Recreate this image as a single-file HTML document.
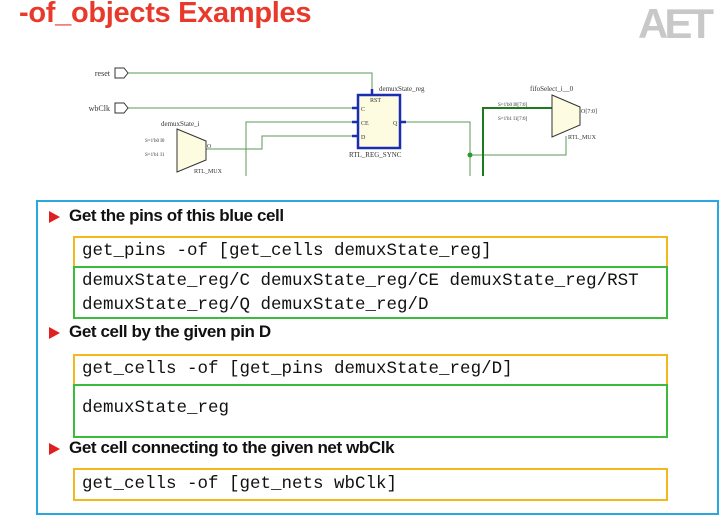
<!DOCTYPE html>
<html><head><meta charset="utf-8"><style>
html,body{margin:0;padding:0;background:#fff;width:728px;height:521px;overflow:hidden;position:relative;font-family:"Liberation Sans",sans-serif}
.title{position:absolute;left:19px;top:-3px;font-size:29px;font-weight:bold;color:#e8392b;letter-spacing:-0.3px}
.logo{position:absolute;left:638px;top:0px;font-size:42px;font-weight:bold;color:#c8c8c8;letter-spacing:-4px}
.blue{position:absolute;left:36px;top:200px;width:679px;height:311px;border:2px solid #2aa6e0}
.b{position:absolute;left:49px;font-size:17px;font-weight:bold;color:#111;letter-spacing:-0.4px}
.b:before{content:"";position:absolute;left:0;top:5px;border-left:11px solid #e02020;border-top:6px solid transparent;border-bottom:6px solid transparent}
.b span{margin-left:20px}
.box{position:absolute;left:73px;width:584px;font-family:"Liberation Mono",monospace;font-size:17.5px;color:#111;padding-left:7px;box-sizing:content-box;line-height:24px}
.y{border:2px solid #f2b81d}
.g{border:2px solid #3cba3c}
</style></head><body>
<div class="title">-of_objects Examples</div>
<div class="logo">AET</div>
<svg style="position:absolute;left:0;top:0" width="728" height="200" font-family="Liberation Serif,serif" font-size="7">
<g fill="none" stroke="#5a9a5a" stroke-width="1">
<polyline points="128,73 372,73 372,94"/>
<line x1="128" y1="108" x2="357" y2="108"/>
<polyline points="206,149 262,149 262,136 357,136"/>
<polyline points="246,176 246,122 357,122"/>
<polyline points="400,122 470,122 470,176"/>
<polyline points="470,155 566,155 566,136"/>
</g>
<polyline points="483,176 483,108 552,108" fill="none" stroke="#1e7a1e" stroke-width="2"/>
<circle cx="470" cy="155" r="2.5" fill="#2a9a2a"/>
<g fill="#fff" stroke="#333" stroke-width="1">
<polygon points="115,68 124,68 128,73 124,78 115,78"/>
<polygon points="115,103 124,103 128,108 124,113 115,113"/>
</g>
<text x="110" y="76" text-anchor="end" fill="#333" font-size="8">reset</text>
<text x="110" y="111" text-anchor="end" fill="#333" font-size="8">wbClk</text>
<rect x="358" y="95" width="42" height="53" fill="#fdfbe0" stroke="#1a2fb0" stroke-width="2.5"/>
<g stroke="#1a2fb0" stroke-width="2.5"><line x1="352" y1="108" x2="358" y2="108"/><line x1="352" y1="122" x2="358" y2="122"/><line x1="352" y1="136" x2="358" y2="136"/><line x1="400" y1="122" x2="406" y2="122"/><line x1="372" y1="89" x2="372" y2="95"/></g>
<text x="379" y="91" fill="#333">demuxState_reg</text>
<text x="370" y="102" fill="#333" font-size="6">RST</text>
<text x="361" y="111" fill="#333" font-size="6">C</text>
<text x="361" y="125" fill="#333" font-size="6">CE</text>
<text x="361" y="139" fill="#333" font-size="6">D</text>
<text x="393" y="125" fill="#333" font-size="6">Q</text>
<text x="349" y="157" fill="#333">RTL_REG_SYNC</text>
<polygon points="177,129 206,141 206,160 177,172" fill="#fdfbe0" stroke="#333"/>
<text x="161" y="126" fill="#333">demuxState_i</text>
<text x="145" y="142" fill="#333" font-size="5">S=1'b0 I0</text>
<text x="145" y="156" fill="#333" font-size="5">S=1'b1 I1</text>
<text x="207" y="148" fill="#333" font-size="6">O</text>
<text x="194" y="173" fill="#333" font-size="6">RTL_MUX</text>
<polygon points="552,95 580,107 580,125 552,137" fill="#fdfbe0" stroke="#333"/>
<text x="530" y="91" fill="#333">fifoSelect_i__0</text>
<text x="498" y="106" fill="#333" font-size="5">S=1'b0 I0[7:0]</text>
<text x="498" y="120" fill="#333" font-size="5">S=1'b1 I1[7:0]</text>
<text x="581" y="113" fill="#333" font-size="6">O[7:0]</text>
<text x="568" y="139" fill="#333" font-size="6">RTL_MUX</text>
</svg>
<div class="blue"></div>
<div class="b" style="top:206px"><span>Get the pins of this blue cell</span></div>
<div class="box y" style="top:236px;height:27px;padding-top:1px">get_pins -of [get_cells demuxState_reg]</div>
<div class="box g" style="top:266px;height:48px;padding-top:1px">demuxState_reg/C demuxState_reg/CE demuxState_reg/RST<br>demuxState_reg/Q demuxState_reg/D</div>
<div class="b" style="top:322px"><span>Get cell by the given pin D</span></div>
<div class="box y" style="top:354px;height:27px;padding-top:1px">get_cells -of [get_pins demuxState_reg/D]</div>
<div class="box g" style="top:384px;height:40px;padding-top:10px">demuxState_reg</div>
<div class="b" style="top:438px"><span>Get cell connecting to the given net wbClk</span></div>
<div class="box y" style="top:468px;height:27px;padding-top:2px">get_cells -of [get_nets wbClk]</div>
</body></html>
